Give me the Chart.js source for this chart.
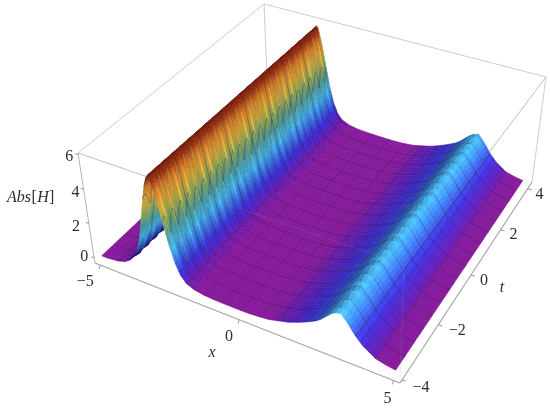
<!DOCTYPE html>
<html><head><meta charset="utf-8">
<style>html,body{margin:0;padding:0;background:#fff}canvas{display:block;filter:blur(0.4px)}</style>
<script src="https://cdn.jsdelivr.net/npm/chart.js@4"></script></head>
<body><canvas id="c" width="550" height="409"></canvas>
<script>
const xGrid=[-5,-4.75,-4.375,-4.1,-3.9,-3.75,-3.6,-3.45,-3.3,-3.125,-3,-2.9,-2.85,-2.8,-2.65,-2.5,-2.35,-2.2,-2.05,-1.875,-1.6,-1.25,-0.95,-0.625,-0.3,0,0.3,0.625,0.95,1.25,1.6,1.875,2.2,2.5,2.65,2.8,3,3.125,3.3,3.5,3.75,4,4.375,4.7,5];
const profile=[0.1,0.11,0.17,0.3,0.5,0.75,1.15,1.8,2.9,4.3,5.3,5.85,6.0,5.85,4.6,3.2,2.0,1.15,0.65,0.36,0.2,0.12,0.09,0.08,0.07,0.07,0.08,0.12,0.18,0.3,0.45,0.62,0.85,1.1,1.27,1.5,1.8,1.93,2.0,1.65,1.1,0.7,0.3,0.17,0.1];
const rippleAmp=[0,0,0.01,0.02,0.04,0.07,0.1,0.18,0.3,0.35,0.2,0.05,0,0.1,0.55,0.6,0.5,0.35,0.2,0.1,0.04,0,0,0,0,0,0,0,0,0,0,0.005,0.01,0.02,0.03,0.04,0.06,0.08,0.09,0.07,0.04,0.015,0.005,0,0];
const rippleByRow=[0.5,1,0.5,-1,0.5,0.95,0.55,-1,0.45,1,0.5,-0.95,0.5,1,0.6,-1,0.5,0.9,0.5,-1,0.55,1,0.45,-1,0.5,1,0.5,-0.9,0.5,1,0.55,-1,0.5,0.95,0.5,-1,0.45,1,0.5,-1,0.6,1,0.5,-0.95,0.5,0.9,0.5,-1,0.5,1,0.55,-1,0.5,1,0.45,-0.9,0.5,1,0.5,-1,0.55,0.95,0.5,-1,0.5,1,0.6,-1,0.45,1,0.5,-0.95,0.5,1,0.5,-1,0.55,0.9,0.5,-1,0.5,1,0.45,-1,0.5,1,0.6,-0.9,0.5,1,0.5,-1,0.5,0.95,0.55,-1,0.5];
const xMesh=[-4.375,-3.75,-3.125,-2.5,-1.875,-1.25,-0.625,0,0.625,1.25,1.875,2.5,3.125,3.75,4.375];
const tMesh=[-3.5,-3,-2.5,-2,-1.5,-1,-0.5,0,0.5,1,1.5,2,2.5,3,3.5];
const xTicks=[-5,0,5], tTicks=[-4,-2,0,2,4], zTicks=[0,2,4,6];
const colorStops=[[0.2,128,24,148],[0.45,92,29,184],[0.9,58,48,218],[1.5,60,130,240],[2.0,75,195,255],[2.7,85,175,175],[3.4,155,195,105],[4.3,245,190,65],[5.1,230,135,48],[5.6,160,58,25],[6.1,105,20,10]];

const T0=-4,TSTEP=1/12,ZCLIP=6.05;
const xBox=[-5.2,5.2],tBox=[-4.1,4.35],zBox=[-0.3,6.1];
const bottomFace=[[95,263],[400,383],[532,182],[268,100]];
const topFace=[[78,153],[404,265],[546,77],[264,4]];
function homography(q){const [[x0,y0],[x1,y1],[x2,y2],[x3,y3]]=q;
 const dx1=x1-x2,dx2=x3-x2,dx3=x0-x1+x2-x3,dy1=y1-y2,dy2=y3-y2,dy3=y0-y1+y2-y3,den=dx1*dy2-dx2*dy1;
 const g=(dx3*dy2-dx2*dy3)/den,h=(dx1*dy3-dx3*dy1)/den;
 return (u,v)=>{const w=g*u+h*v+1;return [((x1-x0+g*x1)*u+(x3-x0+h*x3)*v+x0)/w,((y1-y0+g*y1)*u+(y3-y0+h*y3)*v+y0)/w];};}
const hB=homography(bottomFace),hT=homography(topFace);
function proj(x,t,z){const u=(x-xBox[0])/(xBox[1]-xBox[0]),v=(t-tBox[0])/(tBox[1]-tBox[0]),f=(z-zBox[0])/(zBox[1]-zBox[0]);
 const a=hB(u,v),b=hT(u,v);return {x:a[0]+(b[0]-a[0])*f,y:a[1]+(b[1]-a[1])*f};}
const tRows=rippleByRow.map((_,j)=>T0+j*TSTEP);
const NI=xGrid.length,NJ=tRows.length;
function height(i,j){return Math.min(ZCLIP,profile[i]+rippleAmp[i]*rippleByRow[j]);}
function cmap(z){const s=colorStops;if(z<=s[0][0])return s[0].slice(1);
 for(let k=1;k<s.length;k++)if(z<=s[k][0]){const f=(z-s[k-1][0])/(s[k][0]-s[k-1][0]);return [1,2,3].map(c=>s[k-1][c]+(s[k][c]-s[k-1][c])*f);}
 return s[s.length-1].slice(1);}
const L=[0.5,0.55,0.85];
function shade(i,j){const i0=Math.max(0,i-1),i1=Math.min(NI-1,i+1),j0=Math.max(0,j-1),j1=Math.min(NJ-1,j+1);
 const sx=0.65*(height(i1,j)-height(i0,j))/(xGrid[i1]-xGrid[i0]),st=0.5*(height(i,j1)-height(i,j0))/(tRows[j1]-tRows[j0]);
 const dot=(-sx*L[0]-st*L[1]+L[2])/Math.hypot(sx,st,1);
 let sh=Math.max(0.45,Math.min(1.05,0.52+0.67*dot));
 if(sx>0)sh=Math.max(sh,Math.min(0.85,0.3*sx));
 return sh;}

const painter=[];
function pushLine(data,color,width){painter.push({data,showLine:true,borderColor:color,borderWidth:width,pointRadius:0,fill:false,spanGaps:false});}
const boxEdge='rgb(205,205,205)';
function edge(a,b,color,width){pushLine([proj(...a),proj(...b)],color,width);}
const [X0,X1]=xBox,[T_0,T_1]=tBox,[Z0,Z1]=zBox;
edge([X0,T_1,Z0],[X0,T_1,Z1],boxEdge,1);edge([X0,T_1,Z1],[X1,T_1,Z1],boxEdge,1);edge([X0,T_0,Z1],[X0,T_1,Z1],boxEdge,1);
edge([X0,T_0,Z1],[X1,T_0,Z1],boxEdge,1);edge([X1,T_0,Z1],[X1,T_1,Z1],boxEdge,1);edge([X1,T_1,Z0],[X1,T_1,Z1],boxEdge,1);
edge([X0,T_0,Z0],[X0,T_0,Z1],'rgb(180,180,180)',1);
const meshColor='rgba(45,30,70,0.42)';
function addQuad(i,j,a0,a1){
 const lerp=(p,q,f)=>p+(q-p)*f;
 const xa=lerp(xGrid[i],xGrid[i+1],a0),xb=lerp(xGrid[i],xGrid[i+1],a1);
 const z00=lerp(height(i,j),height(i+1,j),a0),z10=lerp(height(i,j),height(i+1,j),a1),z01=lerp(height(i,j+1),height(i+1,j+1),a0),z11=lerp(height(i,j+1),height(i+1,j+1),a1);
 const pts=[proj(xa,tRows[j],z00),proj(xb,tRows[j],z10),proj(xb,tRows[j+1],z11),proj(xa,tRows[j+1],z01)];pts.push(pts[0]);
 const am=(a0+a1)/2;
 const sh=(lerp(shade(i,j),shade(i+1,j),am)+lerp(shade(i,j+1),shade(i+1,j+1),am))/2;
 const col='rgb('+cmap((z00+z10+z01+z11)/4).map(v=>Math.min(255,Math.round(v*sh))).join(',')+')';
 painter.push({data:pts,showLine:true,borderColor:col,borderWidth:0.6,backgroundColor:col,pointRadius:0,fill:'shape'});
}
for(let i=0;i<NI-1;i++){
 const n=Math.max(1,Math.min(4,Math.ceil(Math.abs(profile[i+1]-profile[i])/0.22)));
 for(let j=NJ-2;j>=0;j--){for(let k=0;k<n;k++)addQuad(i,j,k/n,(k+1)/n);}
 const seg=[];
 for(const tm of tMesh){const j=Math.round((tm-T0)/TSTEP);seg.push(proj(xGrid[i],tRows[j],height(i,j)),proj(xGrid[i+1],tRows[j],height(i+1,j)),{x:null,y:null});}
 pushLine(seg,meshColor,0.8);
 if(xMesh.includes(xGrid[i])){pushLine(tRows.map((t,j)=>proj(xGrid[i],t,height(i,j))),meshColor,0.8);}
}
const faint='rgba(150,150,150,0.2)';
edge([X0,T_0,Z1],[X1,T_0,Z1],faint,1);edge([X1,T_0,Z1],[X1,T_1,Z1],faint,1);edge([X1,T_0,Z0],[X1,T_0,Z1],faint,1);
const front='rgb(165,165,165)';
edge([X0,T_0,Z0],[X1,T_0,Z0],front,1.2);edge([X1,T_0,Z0],[X1,T_1,Z0],front,1.2);
const tickSeg=[];
for(const x of xTicks){const p=proj(x,T_0,Z0);tickSeg.push(p,{x:p.x-1,y:p.y+4},{x:null,y:null});}
for(const t of tTicks){const p=proj(X1,t,Z0);tickSeg.push(p,{x:p.x+4,y:p.y+1},{x:null,y:null});}
for(const z of zTicks){const p=proj(X0,T_0,z);tickSeg.push(p,{x:p.x-3,y:p.y-1},{x:null,y:null});}
pushLine(tickSeg,'rgb(150,150,150)',1);

const serif='16px "Liberation Serif"',serifI='italic 16px "Liberation Serif"';
const xOff=[[-15,17],[-10,17],[-6,18]];
const tOff=[[19,8],[19,6],[13,6],[13,5],[12,6]];
const zOff=[[-10,-1],[-13,3],[-8,4],[-9,2]];
const labelPlugin={id:'axisText',afterDraw(chart){
 const c=chart.ctx,sx=chart.scales.x,sy=chart.scales.y;
 c.save();c.fillStyle='#2e2e2e';c.textAlign='center';c.textBaseline='middle';c.font=serif;
 const put=(txt,p,o)=>c.fillText(txt,sx.getPixelForValue(p.x)+o[0],sy.getPixelForValue(p.y)+o[1]);
 const fmt=v=>String(v).replace('-','\u2212');
 xTicks.forEach((v,i)=>put(fmt(v),proj(v,T_0,Z0),xOff[i]));
 tTicks.forEach((v,i)=>put(fmt(v),proj(X1,v,Z0),tOff[i]));
 zTicks.forEach((v,i)=>put(fmt(v),proj(X0,T_0,v),zOff[i]));
 c.font=serifI;c.fillText('x',212,353);c.fillText('t',502,288);
 c.textAlign='left';let px=7;
 [['Abs',serifI],['[',serif],['H',serifI],[']',serif]].forEach(([s,f])=>{c.font=f;c.fillText(s,px,198);px+=c.measureText(s).width+0.4;});
 c.restore();}};
new Chart(document.getElementById('c'),{type:'scatter',data:{datasets:painter.reverse()},plugins:[labelPlugin],
 options:{responsive:false,animation:false,parsing:false,normalized:true,layout:{padding:0},events:[],
 plugins:{legend:{display:false},tooltip:{enabled:false}},
 scales:{x:{type:'linear',min:0,max:550,display:false},y:{type:'linear',min:0,max:409,reverse:true,display:false}}}});
</script></body></html>
